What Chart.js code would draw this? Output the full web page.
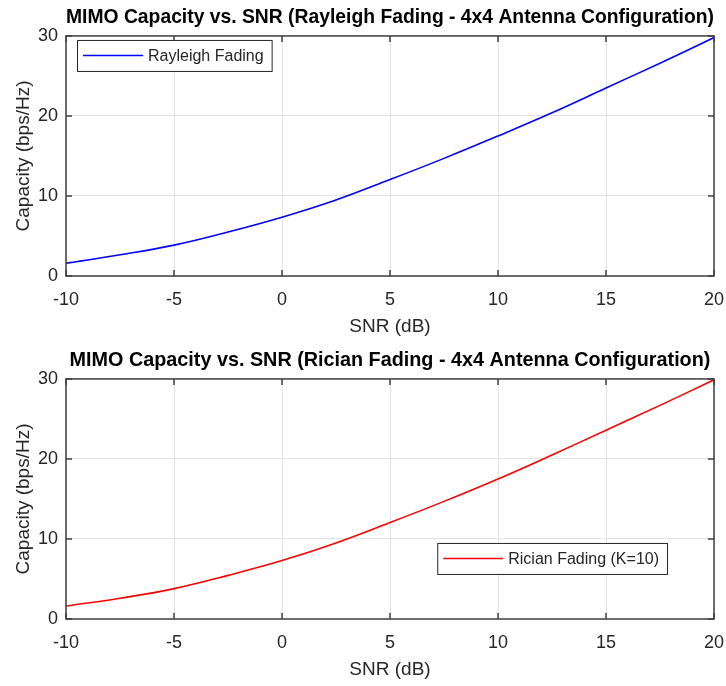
<!DOCTYPE html>
<html>
<head>
<meta charset="utf-8">
<script src="https://cdn.jsdelivr.net/npm/chart.js@4"></script>
<style>
  html, body { margin: 0; padding: 0; background: #fff; }
  canvas { display: block; }
</style>
</head>
<body>
<canvas id="rayleigh-chart" width="726" height="343"></canvas>
<canvas id="rician-chart" width="726" height="343"></canvas>
<script>
const snrDb = [-10, -7.5, -5, -2.5, 0, 2.5, 5, 7.5, 10, 12.5, 15, 17.5, 20];
const rayleighCapacity = [1.6, 2.65, 3.86, 5.5, 7.35, 9.5, 12.05, 14.7, 17.5, 20.4, 23.5, 26.6, 29.8];
const ricianCapacity = [1.6, 2.6, 3.8, 5.45, 7.3, 9.5, 12.05, 14.7, 17.5, 20.5, 23.6, 26.7, 29.9];
const xTicks = [-10, -5, 0, 5, 10, 15, 20];
const yTicks = [0, 10, 20, 30];

const FONT = "'Liberation Sans', Arial, sans-serif";
const TEXT = '#262626';
const AXIS = '#404040';

// box round the plot area, inward ticks on all four sides, legend inside the axes
const matlabAxesPlugin = {
    id: 'matlabAxes',
    afterDraw(chart, args, opts) {
        const ctx = chart.ctx;
        const a = chart.chartArea;
        const xs = chart.scales.x, ys = chart.scales.y;
        ctx.save();
        ctx.strokeStyle = AXIS;
        ctx.lineWidth = 1.5;
        ctx.strokeRect(a.left, a.top, a.right - a.left, a.bottom - a.top);
        ctx.beginPath();
        xTicks.forEach(v => {
            const px = xs.getPixelForValue(v);
            ctx.moveTo(px, a.bottom); ctx.lineTo(px, a.bottom - 6);
            ctx.moveTo(px, a.top); ctx.lineTo(px, a.top + 6);
        });
        yTicks.forEach(v => {
            const py = ys.getPixelForValue(v);
            ctx.moveTo(a.left, py); ctx.lineTo(a.left + 6, py);
            ctx.moveTo(a.right, py); ctx.lineTo(a.right - 6, py);
        });
        ctx.stroke();

        // legend
        const ds = chart.data.datasets[0];
        ctx.font = '16px ' + FONT;
        const tw = ctx.measureText(ds.label).width;
        const w = 6 + 60 + 5 + tw + 8, h = 31;
        const left = opts.right != null ? a.right - opts.right - w : a.left + opts.left;
        const top = a.top + opts.top;
        ctx.fillStyle = '#fff';
        ctx.fillRect(left, top, w, h);
        ctx.lineWidth = 1;
        ctx.strokeStyle = TEXT;
        ctx.strokeRect(left + 0.5, top + 0.5, w, h);
        ctx.beginPath();
        ctx.strokeStyle = ds.borderColor;
        ctx.lineWidth = 1.5;
        ctx.moveTo(left + 6, top + h / 2);
        ctx.lineTo(left + 66, top + h / 2);
        ctx.stroke();
        ctx.fillStyle = TEXT;
        ctx.textBaseline = 'middle';
        ctx.fillText(ds.label, left + 71, top + h / 2 + 1);
        ctx.restore();
    }
};

function makeChart(id, title, label, values, color, legendPos) {
    return new Chart(document.getElementById(id), {
        type: 'line',
        data: {
            datasets: [{
                label: label,
                data: snrDb.map((x, i) => ({ x: x, y: values[i] })),
                borderColor: color,
                borderWidth: 1.6,
                pointRadius: 0,
                tension: 0.4,
                fill: false
            }]
        },
        options: {
            responsive: false,
            animation: false,
            devicePixelRatio: 1,
            layout: { padding: 0 },
            plugins: {
                title: {
                    display: true,
                    fullSize: false,
                    text: title,
                    color: '#000',
                    font: { family: FONT, size: 19.8, weight: 'bold' },
                    padding: { top: 6, bottom: 6.2 }
                },
                legend: { display: false },
                tooltip: { enabled: false },
                matlabAxes: legendPos
            },
            scales: {
                x: {
                    type: 'linear',
                    min: -10,
                    max: 20,
                    afterBuildTicks: s => { s.ticks = xTicks.map(v => ({ value: v })); },
                    afterFit: s => { s.height = 67; s.paddingLeft = 0; s.paddingRight = 12; },
                    grid: { color: '#e3e3e3', drawTicks: false },
                    border: { display: false },
                    ticks: { color: TEXT, padding: 13, font: { family: FONT, size: 18 } },
                    title: {
                        display: true,
                        text: 'SNR (dB)',
                        color: TEXT,
                        padding: { top: 0, bottom: 5 },
                        font: { family: FONT, size: 19 }
                    }
                },
                y: {
                    min: 0,
                    max: 30,
                    afterBuildTicks: s => { s.ticks = yTicks.map(v => ({ value: v })); },
                    afterFit: s => { s.width = 66; },
                    grid: { color: '#e3e3e3', drawTicks: false },
                    border: { display: false },
                    ticks: { color: TEXT, padding: 8, font: { family: FONT, size: 18 } },
                    title: {
                        display: true,
                        text: 'Capacity (bps/Hz)',
                        color: TEXT,
                        padding: { top: 12, bottom: 0 },
                        font: { family: FONT, size: 19 }
                    }
                }
            }
        },
        plugins: [matlabAxesPlugin]
    });
}

makeChart('rayleigh-chart',
    'MIMO Capacity vs. SNR (Rayleigh Fading - 4x4 Antenna Configuration)',
    'Rayleigh Fading', rayleighCapacity, '#0000ff', { left: 11, top: 4 });
makeChart('rician-chart',
    'MIMO Capacity vs. SNR (Rician Fading - 4x4 Antenna Configuration)',
    'Rician Fading (K=10)', ricianCapacity, '#ff0000', { right: 47, top: 164 });
</script>
</body>
</html>
